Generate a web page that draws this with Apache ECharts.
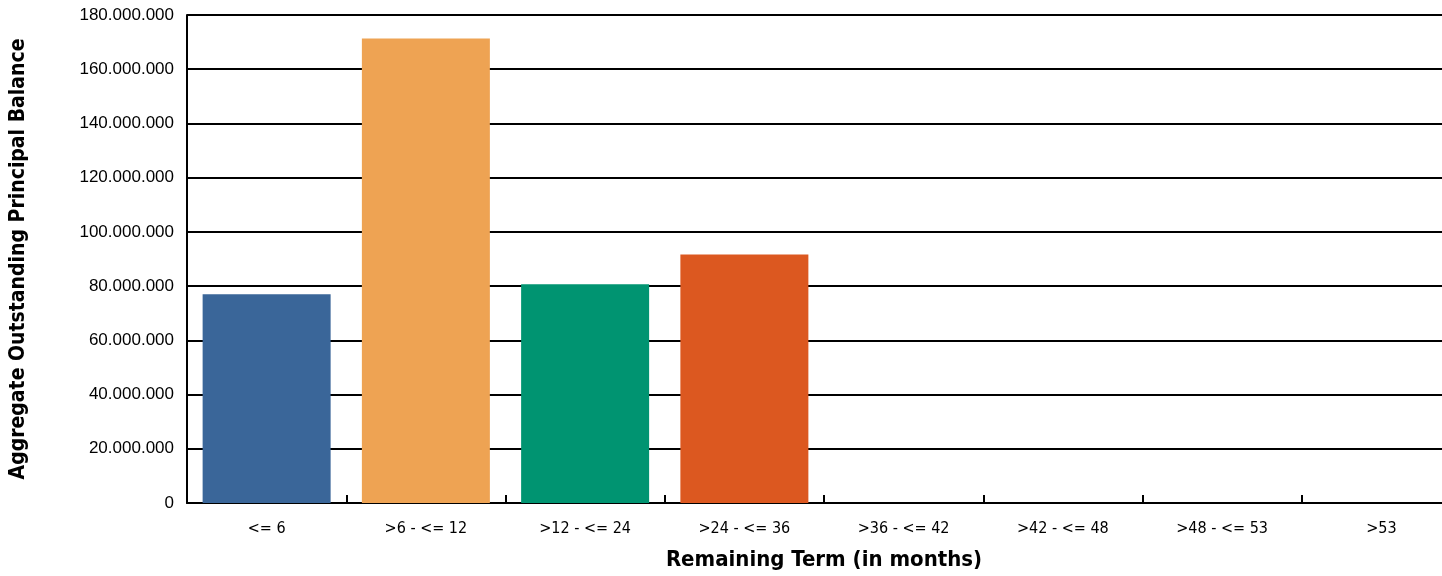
<!DOCTYPE html>
<html>
<head>
<meta charset="utf-8">
<script src="https://cdn.jsdelivr.net/npm/echarts@6/dist/echarts.min.js"></script>
<style>
html,body{margin:0;padding:0;overflow:hidden;background:#fff;width:1442px;height:576px;}
#c{width:1461px;height:576px;}
</style>
</head>
<body>
<div id="c"></div>
<script>
const categories = ['<= 6', '>6 - <= 12', '>12 - <= 24', '>24 - <= 36', '>36 - <= 42', '>42 - <= 48', '>48 - <= 53', '>53'];
const balances = [77000000, 171300000, 80700000, 91700000, 0, 0, 0, 0];
const barColors = ['#3A6699', '#EEA353', '#009471', '#DC5820', '#3A6699', '#EEA353', '#009471', '#DC5820'];
const yTitle = 'Aggregate Outstanding Principal Balance';
const xTitle = 'Remaining Term (in months)';

const narrow = "'Liberation Sans Narrow', 'DejaVu Sans Condensed', 'Liberation Sans', sans-serif";
const chart = echarts.init(document.getElementById('c'));
function fmt(v){ return String(v).replace(/\B(?=(\d{3})+(?!\d))/g, '.'); }
chart.setOption({
  animation: false,
  grid: { left: 185, top: 15, right: 0, bottom: 72, containLabel: false },
  xAxis: {
    type: 'category',
    data: categories,
    name: xTitle,
    nameLocation: 'middle',
    nameGap: 46,
    nameTextStyle: { fontFamily: narrow, fontWeight: 'bold', fontSize: 22, color: '#000' },
    axisLine: { lineStyle: { color: '#000', width: 2 } },
    axisTick: { show: true, inside: true, length: 8, lineStyle: { color: '#000', width: 2 } },
    axisLabel: { fontFamily: narrow, fontSize: 16, color: '#000', margin: 18 },
    splitLine: { show: false }
  },
  yAxis: {
    type: 'value',
    min: 0, max: 180000000, interval: 20000000,
    name: yTitle,
    nameLocation: 'middle',
    nameGap: 158,
    nameTextStyle: { fontFamily: narrow, fontWeight: 'bold', fontSize: 21, color: '#000' },
    axisLine: { show: true, lineStyle: { color: '#000', width: 2 } },
    axisTick: { show: false },
    axisLabel: { fontFamily: "'Liberation Sans', Arial, sans-serif", fontSize: 17, color: '#000', margin: 13, formatter: fmt },
    splitLine: { show: true, lineStyle: { color: '#000', width: 2 } }
  },
  series: [{
    type: 'bar',
    data: balances.map((v, i) => ({ value: v, itemStyle: { color: barColors[i] } })),
    barWidth: 128
  }]
});
</script>
</body>
</html>
